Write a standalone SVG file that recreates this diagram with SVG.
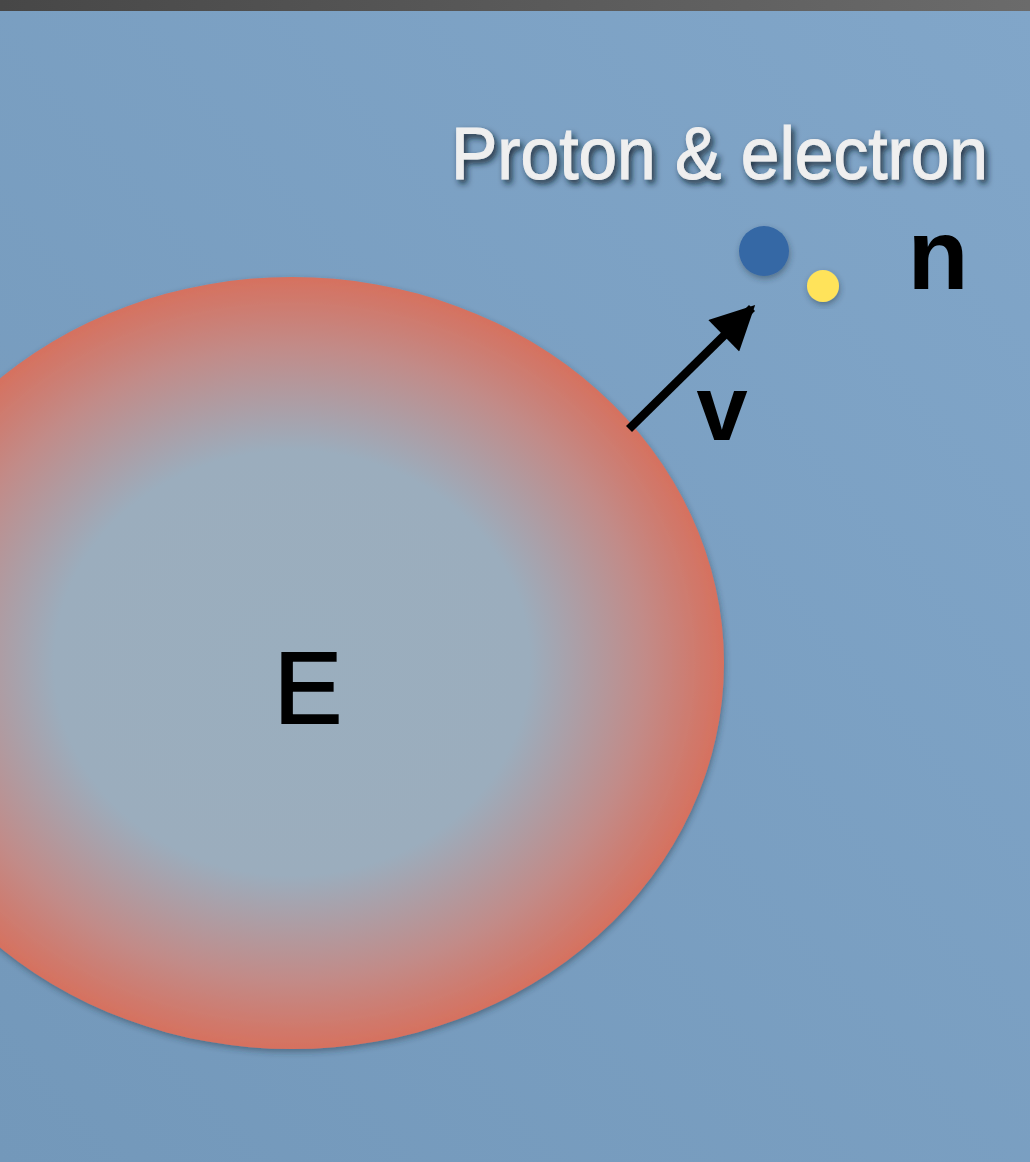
<svg xmlns="http://www.w3.org/2000/svg" width="1030" height="1162" viewBox="0 0 1030 1162">
<style>
.lbl{font-family:"Liberation Sans",Arial,sans-serif;fill:#000}
.bold{font-weight:bold}
</style>
<defs>
<linearGradient id="bg" x1="1" y1="0" x2="0" y2="1">
<stop offset="0" stop-color="#81a6c9"/>
<stop offset="1" stop-color="#7398ba"/>
</linearGradient>
<linearGradient id="bar" x1="0" y1="0" x2="1" y2="0">
<stop offset="0" stop-color="#474747"/>
<stop offset="1" stop-color="#6b6b6b"/>
</linearGradient>
<radialGradient id="sph" cx="0.5" cy="0.5" r="0.5">
<stop offset="0" stop-color="#9aaebe"/>
<stop offset="0.55" stop-color="#9badbd"/>
<stop offset="0.82" stop-color="#c28b88"/>
<stop offset="1" stop-color="#d6715f"/>
</radialGradient>
<filter id="sh" x="-20%" y="-20%" width="140%" height="140%">
<feDropShadow dx="1" dy="3" stdDeviation="3" flood-color="#203040" flood-opacity="0.45"/>
</filter>
<filter id="tsh" x="-10%" y="-30%" width="120%" height="160%">
<feDropShadow dx="3" dy="4" stdDeviation="3" flood-color="#0d1a2a" flood-opacity="0.85"/>
</filter>
<marker id="ah" viewBox="0 0 10 10" refX="9" refY="5" markerUnits="userSpaceOnUse" markerWidth="46" markerHeight="44" orient="auto">
<path d="M0,0 L10,5 L0,10 z" fill="#000"/>
</marker>
</defs>
<rect width="1030" height="1162" fill="url(#bg)"/>
<rect width="1030" height="11" fill="url(#bar)"/>
<g id="node-E">
<ellipse cx="292" cy="663" rx="432" ry="386" fill="url(#sph)" filter="url(#sh)"/>
<text class="lbl" x="308" y="723" font-size="102" text-anchor="middle" stroke="#000" stroke-width="2">E</text>
</g>
<g id="node-proton">
<circle cx="764" cy="251" r="25" fill="#3567a5" filter="url(#sh)"/>
</g>
<g id="node-electron">
<circle cx="823" cy="286" r="16" fill="#ffe35a" filter="url(#sh)"/>
</g>
<g id="label-n">
<text class="lbl bold" x="938" y="289" font-size="100" text-anchor="middle">n</text>
</g>
<g id="label-pe">
<text x="451" y="179" font-size="74" textLength="537" lengthAdjust="spacingAndGlyphs" font-family="Liberation Sans, Arial, sans-serif" fill="#efefef" stroke="#efefef" stroke-width="1" filter="url(#tsh)">Proton &amp; electron</text>
</g>
<g id="connectors">
<line x1="629" y1="429" x2="752" y2="308" stroke="#000" stroke-width="8.5" marker-end="url(#ah)"/>
<text class="lbl bold" x="722" y="440" font-size="92" text-anchor="middle">v</text>
</g>
</svg>
